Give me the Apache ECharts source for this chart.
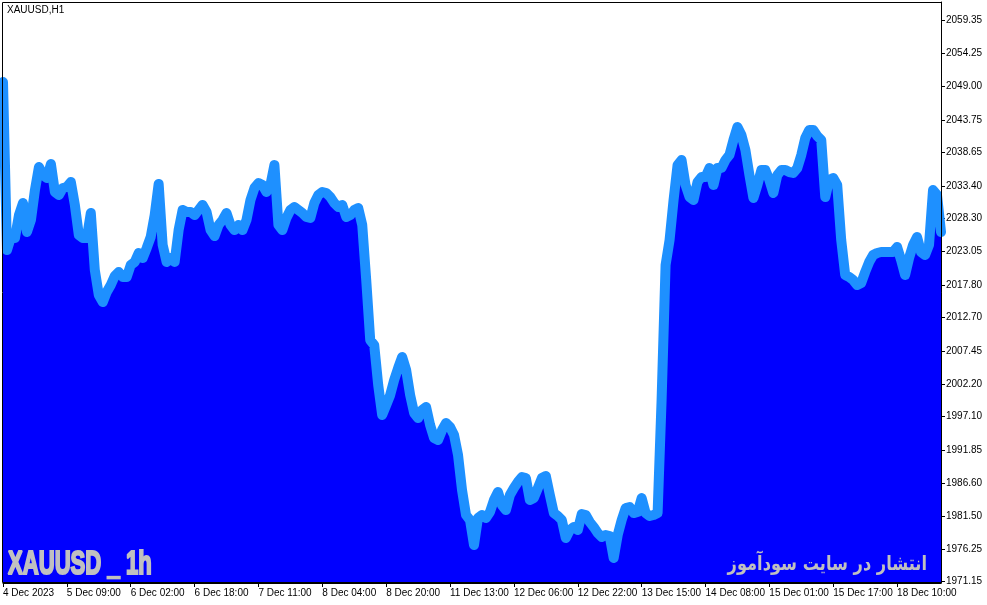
<!DOCTYPE html>
<html>
<head>
<meta charset="utf-8">
<script src="https://cdn.jsdelivr.net/npm/echarts@6/dist/echarts.min.js"></script>
<style>html,body{margin:0;padding:0;background:#fff}#c{width:987px;height:605px}</style>
</head>
<body>
<div id="c"></div>
<script>
// Hourly closes XAUUSD H1
const closes = [
2049.71,2023.30,2025.34,2025.19,2028.80,2030.69,2026.13,2028.02,2032.73,2036.35,
2035.09,2034.62,2036.82,2032.42,2031.95,2033.05,2033.21,2033.99,2030.38,2025.66,
2025.19,2025.19,2029.12,2020.16,2016.23,2015.12,2016.70,2017.80,2019.21,2019.84,
2019.06,2019.06,2020.94,2021.41,2022.83,2022.04,2023.61,2025.34,2028.80,2033.68,
2024.09,2021.41,2022.04,2021.41,2026.44,2029.59,2029.27,2029.27,2028.80,2029.59,
2030.38,2029.27,2026.44,2025.50,2027.23,2028.02,2029.12,2027.23,2026.44,2027.23,
2026.44,2028.02,2031.16,2033.05,2033.83,2033.52,2032.42,2033.52,2036.66,2027.23,
2026.44,2028.33,2029.59,2030.06,2029.59,2029.12,2028.49,2028.33,2030.69,2031.95,
2032.42,2032.26,2031.63,2030.69,2030.06,2030.38,2028.49,2028.80,2029.59,2029.90,
2027.23,2018.58,2009.15,2008.36,2002.08,1997.36,1998.93,2000.50,2002.86,2004.75,
2006.48,2004.43,2000.50,1997.67,1996.89,1998.15,1998.62,1995.79,1993.74,1993.43,
1995.00,1996.10,1995.47,1994.21,1991.07,1985.57,1981.64,1980.85,1976.92,1981.17,
1981.64,1981.17,1982.11,1984.00,1985.25,1983.21,1982.42,1984.78,1985.88,1986.83,
1987.61,1987.45,1984.00,1984.31,1985.88,1987.45,1987.77,1984.78,1981.95,1981.48,
1980.85,1978.02,1979.28,1979.75,1979.28,1981.79,1981.64,1980.54,1979.75,1978.81,
1978.18,1978.49,1978.34,1974.88,1978.49,1980.85,1982.74,1982.89,1981.95,1982.11,
1984.31,1981.95,1981.48,1981.64,1981.95,1999.72,2020.94,2024.87,2031.16,2036.66,
2037.45,2033.52,2031.63,2031.16,2033.99,2034.78,2034.78,2036.19,2033.52,2036.19,
2036.19,2037.45,2038.24,2040.59,2042.64,2041.38,2039.02,2035.09,2031.48,2033.52,
2035.88,2035.88,2034.31,2032.26,2035.09,2035.88,2035.88,2035.56,2035.41,2036.19,
2038.24,2040.91,2042.17,2042.17,2041.22,2040.59,2031.63,2034.31,2034.62,2033.52,
2024.87,2019.37,2019.06,2018.58,2017.80,2018.11,2019.84,2021.41,2022.51,2022.83,
2022.99,2022.99,2022.99,2022.99,2023.77,2021.73,2019.37,2022.04,2024.09,2025.34,
2022.99,2022.51,2024.09,2032.73,2031.95,2026.13
];
const timeLabels = ['4 Dec 2023','5 Dec 09:00','6 Dec 02:00','6 Dec 18:00','7 Dec 11:00',
  '8 Dec 04:00','8 Dec 20:00','11 Dec 13:00','12 Dec 06:00','12 Dec 22:00',
  '13 Dec 15:00','14 Dec 08:00','15 Dec 01:00','15 Dec 17:00','18 Dec 10:00'];
const labelStep = 16;
const priceTicks = [1971.15,1976.25,1981.50,1986.60,1991.85,1997.10,2002.20,2007.45,2012.70,
  2017.80,2023.05,2028.30,2033.40,2038.65,2043.75,2049.00,2054.25,2059.35];
const priceMin = 1970.95, priceMax = 2062.29;

const bars = closes.map((_, i) => String(i));
const showIdx = (i) => i % labelStep === 0 && i / labelStep < timeLabels.length;

const chart = echarts.init(document.getElementById('c'), null, {renderer: 'canvas'});
const font = '"Liberation Sans", Arial, sans-serif';
chart.setOption({
  animation: false,
  backgroundColor: '#ffffff',
  grid: {left: 3, top: 2, width: 938, height: 581, containLabel: false},
  xAxis: {
    type: 'category',
    data: bars,
    boundaryGap: false,
    axisLine: {show: true, lineStyle: {color: '#000', width: 1}},
    axisTick: {show: true, length: 4, interval: (i) => showIdx(i), lineStyle: {color: '#000'}},
    axisLabel: {
      show: true, interval: (i) => showIdx(i), align: 'left', margin: 5,
      color: '#000', fontSize: 10, fontFamily: font,
      formatter: (v, i) => showIdx(i) ? timeLabels[i / labelStep] : ''
    },
    splitLine: {show: false}
  },
  yAxis: {
    type: 'value',
    position: 'right',
    min: priceMin, max: priceMax,
    axisLine: {show: true, lineStyle: {color: '#000', width: 1}},
    axisTick: {show: true, length: 4, customValues: priceTicks, lineStyle: {color: '#000'}},
    axisLabel: {
      show: true, customValues: priceTicks, margin: 5, color: '#000', fontSize: 10, fontFamily: font,
      formatter: (v) => Number(v).toFixed(2)
    },
    splitLine: {show: false}
  },
  series: [{
    type: 'line',
    data: closes,
    symbol: 'none',
    smooth: false,
    lineStyle: {color: '#1E90FF', width: 10, cap: 'round', join: 'round'},
    areaStyle: {color: '#0000FF', opacity: 1, origin: 'start'},
    z: 2
  }],
  graphic: [
    {type: 'rect', z: 100, silent: true,
     shape: {x: 2.5, y: 2.5, width: 939, height: 580},
     style: {fill: null, stroke: '#000', lineWidth: 1}},
    {type: 'text', z: 101, x: 7, y: 10.5, silent: true,
     style: {text: 'XAUUSD,H1', fill: '#000', font: '10px ' + font, align: 'left', verticalAlign: 'middle'}},
    {type: 'text', z: 101, x: 8, y: 565, scaleX: 0.65, silent: true,
     style: {text: 'XAUUSD _ 1h', fill: '#C0C0C0', stroke: '#C0C0C0', lineWidth: 2.2,
             font: 'bold 34px "Liberation Sans", Arial, sans-serif', align: 'left', verticalAlign: 'middle'}},
    {type: 'text', z: 101, x: 927, y: 565, scaleX: 0.81, silent: true,
     style: {text: 'انتشار در سایت سودآموز', fill: '#C0C0C0', font: 'bold 20px "DejaVu Sans", "Noto Sans", sans-serif', align: 'right', verticalAlign: 'middle'}}
  ]
});
</script>
</body>
</html>
